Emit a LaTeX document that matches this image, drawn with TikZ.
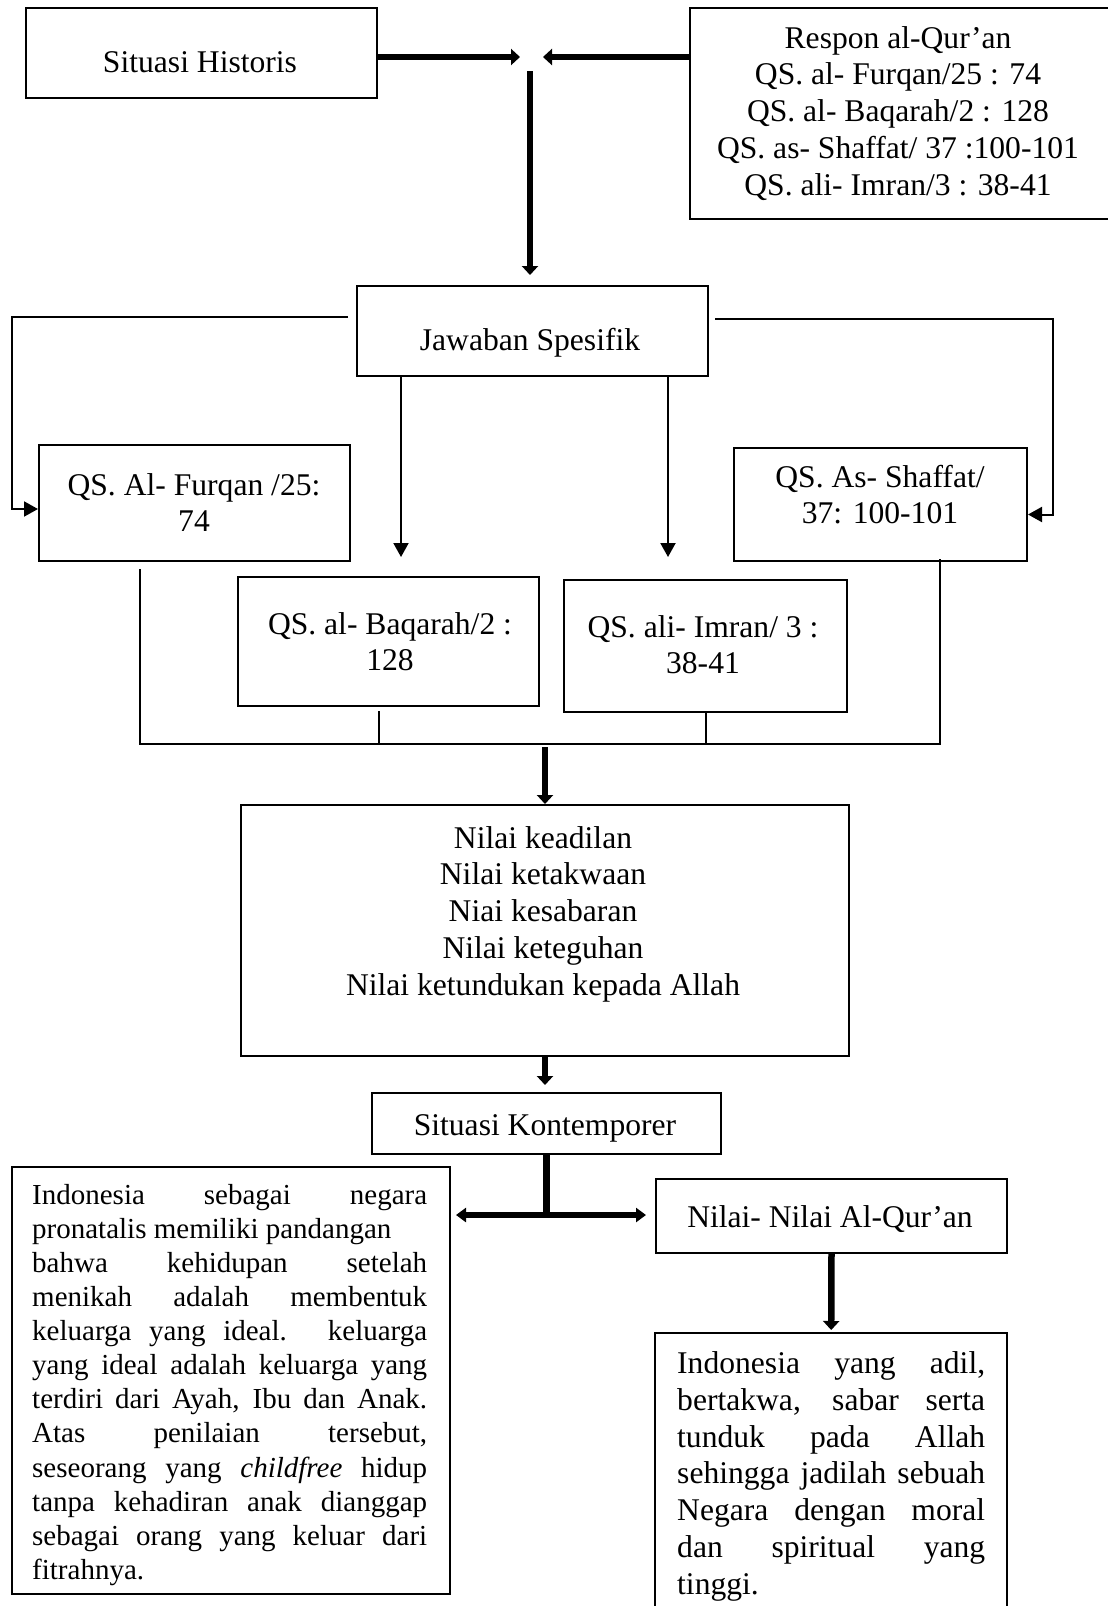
\documentclass[tikz,border=0pt]{standalone}
\usepackage{fontspec}
\setmainfont{Liberation Serif}
\usetikzlibrary{arrows.meta,calc}
\tikzset{
  bx/.style={draw, line width=2pt, inner sep=0pt, anchor=north west},
  openbx/.style={draw=none, inner sep=0pt, anchor=north west},
  txt/.style={inner sep=0pt, anchor=north, align=center, font=\fontsize{31.6}{36.7}\selectfont},
  thinline/.style={line width=2pt},
  thinarrow/.style={line width=2pt, -{Triangle[length=14pt,width=15pt]}},
  thickline/.style={line width=6.5pt},
  thickarrow/.style={line width=6.5pt, -{Triangle[length=9pt,width=16pt]}},
  thickboth/.style={line width=6.5pt, {Triangle[length=10pt,width=14pt]}-{Triangle[length=10pt,width=14pt]}},
}
\newcommand\tstrut{\rule{0pt}{28pt}}
\newcommand\sstrut{\rule{0pt}{26pt}}
\newcommand\jl[1]{\makebox[395pt][s]{#1}}
\newcommand\jr[1]{\makebox[308pt][s]{#1}}
\begin{document}
\begin{tikzpicture}[x=1pt,y=-1pt]
\fill[white] (0,0) rectangle (1108,1606);
\useasboundingbox (0,0) rectangle (1108,1606);

% boxes
\node[bx, minimum width=351pt, minimum height=90pt] (sh) at (25,7) {};
\node[txt] (sht) at (200,44) {\tstrut Situasi Historis};

\node[openbx, minimum width=418pt, minimum height=211pt] (rs) at (690,8) {};
\draw[thinline] (rs.north east) -- (rs.north west) -- (rs.south west) -- (rs.south east);
\node[txt] (rst) at (898,20) {\tstrut Respon al-Qur’an\\QS. al- Furqan/25 : 74\\QS. al- Baqarah/2 : 128\\QS. as- Shaffat/ 37 :100-101\\QS. ali- Imran/3 : 38-41};

\node[bx, minimum width=351pt, minimum height=90pt] (jw) at (356,285) {};
\node[txt] (jwt) at (530,322) {\tstrut Jawaban Spesifik};

\node[bx, minimum width=311pt, minimum height=116pt] (fq) at (38,444) {};
\node[txt] (fqt) at (194,467) {\tstrut QS. Al- Furqan /25:\\74};

\node[bx, minimum width=293pt, minimum height=113pt] (sf) at (733,447) {};
\node[txt] (sft) at (880,459) {\tstrut QS. As- Shaffat/\\37: 100-101};

\node[bx, minimum width=301pt, minimum height=129pt] (bq) at (237,576) {};
\node[txt] (bqt) at (390,606) {\tstrut QS. al- Baqarah/2 :\\128};

\node[bx, minimum width=283pt, minimum height=132pt] (im) at (563,579) {};
\node[txt] (imt) at (703,609) {\tstrut QS. ali- Imran/ 3 :\\38-41};

\node[bx, minimum width=608pt, minimum height=251pt] (nl) at (240,804) {};
\node[txt] (nlt) at (543,820) {\tstrut Nilai keadilan\\Nilai ketakwaan\\Niai kesabaran\\Nilai keteguhan\\Nilai ketundukan kepada Allah};

\node[bx, minimum width=349pt, minimum height=61pt] (sk) at (371,1092) {};
\node[txt] (skt) at (545,1107) {\tstrut Situasi Kontemporer};

\node[bx, minimum width=438pt, minimum height=427pt] (lb) at (11,1166) {};
\node[txt, anchor=north west, align=left, font=\fontsize{29}{34.1}\selectfont] (lbt) at (32,1178) {%
\sstrut\jl{Indonesia sebagai negara}\\
pronatalis memiliki pandangan\\
\jl{bahwa kehidupan setelah}\\
\jl{menikah adalah membentuk}\\
\jl{keluarga yang ideal. keluarga}\\
\jl{yang ideal adalah keluarga yang}\\
\jl{terdiri dari Ayah, Ibu dan Anak.}\\
\jl{Atas penilaian tersebut,}\\
\jl{seseorang yang \textit{childfree} hidup}\\
\jl{tanpa kehadiran  anak dianggap}\\
\jl{sebagai orang yang keluar dari}\\
fitrahnya.};

\node[bx, minimum width=351pt, minimum height=74pt] (nn) at (655,1178) {};
\node[txt] (nnt) at (830,1199) {\tstrut Nilai- Nilai Al-Qur’an};

\node[openbx, minimum width=352pt, minimum height=273pt] (rb) at (655,1333) {};
\draw[thinline] (rb.south west) -- (rb.north west) -- (rb.north east) -- (rb.south east);
\node[txt, anchor=north west, align=left, font=\fontsize{31.6}{36.9}\selectfont] (rbt) at (677,1345) {%
\tstrut\jr{Indonesia yang adil,}\\
\jr{bertakwa, sabar serta}\\
\jr{tunduk pada Allah}\\
\jr{sehingga jadilah sebuah}\\
\jr{Negara dengan moral}\\
\jr{dan spiritual yang}\\
tinggi.};

% top thick connectors
\coordinate (mL) at (520,57);
\coordinate (mR) at (543,57);
\coordinate (mD) at (530,71);
\draw[thickarrow] (sh.east |- mL) -- (mL);
\draw[thickarrow] (rs.west |- mR) -- (mR);
\draw[thickarrow] (mD) -- ($(jw.north -| mD)+(0,-10)$);

% Jawaban Spesifik branches
\draw[thinarrow] ($(jw.north west)+(-8,32)$) -| ($(fq.west)+(-26,6)$) -- ($(fq.west)+(0,6)$);
\draw[thinarrow] ($(jw.north east)+(6,34)$) -| ($(sf.east)+(25,10)$) -- ($(sf.east)+(0,10)$);
\draw[thinarrow] ($(jw.south west)+(45,0)$) -- ($(jw.south west)+(45,180)$);
\draw[thinarrow] ($(jw.south east)+(-41,0)$) -- ($(jw.south east)+(-41,180)$);

% collecting bus
\coordinate (busL) at (140,744);
\coordinate (busR) at (940,744);
\draw[thinline] ($(fq.south -| busL)+(0,7)$) -- (busL) -- (busR) -- ($(sf.south -| busR)+(0,-3)$);
\path ($(bq.south)+(-10,4)$) coordinate (bqd);
\draw[thinline] (bqd) -- (bqd |- busL);
\draw[thinline] (im.south) -- (im.south |- busL);
\draw[thickarrow] ($(nl.north |- busL)+(0,3)$) -- (nl.north);

% lower part
\draw[thickarrow] (nl.south) -- ($(nl.south |- sk.north)+(0,-7)$);
\draw[thickline] (sk.south) -- ++(0,60) coordinate (split);
\draw[thickboth] ($(lb.east |- split)+(5,0)$) -- ($(nn.west |- split)+(-9,0)$);
\draw[thickarrow] (nn.south) -- ($(rb.north)+(0,-3)$);
\end{tikzpicture}
\end{document}
